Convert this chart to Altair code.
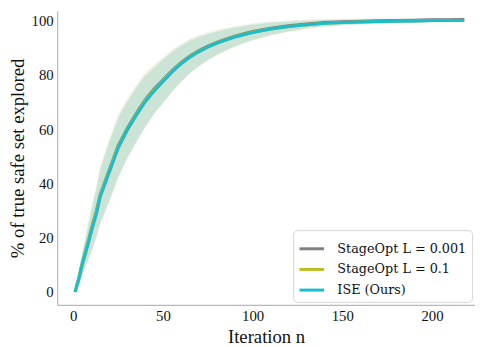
import altair as alt
import pandas as pd

iters = [1, 3, 5, 8, 10, 13, 15, 20, 25, 30, 35, 40, 45, 50, 55, 60, 65, 70, 75, 80,
         85, 90, 95, 100, 110, 120, 130, 140, 150, 160, 170, 180, 190, 200, 210, 218]

series_names = ["StageOpt L = 0.001", "StageOpt L = 0.1", "ISE (Ours)"]
series_colors = ["#7f7f7f", "#bcbd22", "#17becf"]
band_opacity = [0.1, 0.15, 0.25]

# mean % explored
mean_stage_001 = [0.3, 5.2, 10.8, 18.0, 23.2, 30.4, 36.0, 45.0, 54.0, 60.3, 65.8, 70.8, 74.8, 78.2,
                  81.6, 84.5, 87.0, 89.0, 90.6, 92.0, 93.2, 94.3, 95.2, 96.0, 97.2, 98.1, 98.8,
                  99.3, 99.6, 99.8, 100.0, 100.1, 100.2, 100.3, 100.3, 100.4]
mean_stage_01 = [0.1, 4.9, 10.4, 17.5, 22.6, 29.8, 35.4, 44.4, 53.4, 59.8, 65.4, 70.4, 74.4, 77.8,
                 81.3, 84.2, 86.7, 88.7, 90.3, 91.7, 92.9, 94.0, 94.9, 95.7, 96.9, 97.8, 98.5,
                 99.0, 99.3, 99.5, 99.7, 99.8, 99.9, 100.0, 100.0, 100.1]
mean_ise = [0.0, 4.5, 10.0, 17.0, 22.0, 29.0, 35.0, 44.0, 53.0, 59.5, 65.0, 70.0, 74.0, 77.5,
            81.0, 84.0, 86.5, 88.5, 90.2, 91.6, 92.8, 93.9, 94.8, 95.6, 96.9, 97.8, 98.5,
            99.0, 99.3, 99.5, 99.7, 99.8, 99.9, 100.0, 100.0, 100.1]

# half-width of the shaded band
spread_stage_001 = [0.2, 2.8, 4.4, 6.5, 8.0, 9.5, 10.5, 11.5, 11.5, 11.0, 10.5, 10.0, 9.0, 8.4,
                    7.7, 7.0, 6.3, 5.7, 5.1, 4.6, 4.1, 3.7, 3.3, 3.0, 2.5, 2.0, 1.6, 1.3, 1.1,
                    1.0, 0.9, 0.8, 0.8, 0.8, 0.8, 0.8]
spread_stage_01 = [0.2, 2.6, 4.2, 6.2, 7.7, 9.2, 10.2, 11.2, 11.2, 10.8, 10.2, 9.7, 8.8, 8.2,
                   7.5, 6.8, 6.2, 5.6, 5.0, 4.5, 4.1, 3.7, 3.3, 3.0, 2.5, 2.0, 1.6, 1.3, 1.1,
                   0.9, 0.8, 0.7, 0.7, 0.7, 0.7, 0.7]
spread_ise = [0.2, 2.5, 4.0, 6.0, 7.5, 9.0, 10.0, 11.0, 11.0, 10.5, 10.0, 9.5, 8.5, 8.0,
              7.3, 6.6, 6.0, 5.4, 4.8, 4.3, 3.9, 3.5, 3.1, 2.8, 2.3, 1.8, 1.4, 1.2, 1.0,
              0.9, 0.8, 0.7, 0.7, 0.7, 0.7, 0.7]

x_ticks = [0, 50, 100, 150, 200]
y_ticks = [0, 20, 40, 60, 80, 100]

rows = []
for k, (name, means, spreads) in enumerate(zip(series_names,
                                [mean_stage_001, mean_stage_01, mean_ise],
                                [spread_stage_001, spread_stage_01, spread_ise])):
    for n, m, s in zip(iters, means, spreads):
        rows.append({"n": n, "series": name, "mean": m, "lo": m - s, "hi": m + s, "order": k})
df = pd.DataFrame(rows)

FONT = "Liberation Serif, DejaVu Serif, serif"
LEGEND_FONT = "DejaVu Serif, serif"

x_enc = alt.X("n:Q", scale=alt.Scale(domain=[-9, 224], nice=False, zero=False),
              axis=alt.Axis(values=x_ticks, title="Iteration n"))
y_scale = alt.Scale(domain=[-4.7, 103.6], nice=False, zero=False)
color_scale = alt.Scale(domain=series_names, range=series_colors)

bands = alt.Chart(df).mark_area().encode(
    x=x_enc,
    y=alt.Y("lo:Q", scale=y_scale,
            axis=alt.Axis(values=y_ticks, title="% of true safe set explored")),
    y2="hi:Q",
    color=alt.Color("series:N", scale=color_scale, legend=None),
    opacity=alt.Opacity("series:N", scale=alt.Scale(domain=series_names, range=band_opacity),
                        legend=None),
    order="order:Q",
)

lines = alt.Chart(df).mark_line(strokeWidth=3).encode(
    x=x_enc,
    y=alt.Y("mean:Q", scale=y_scale),
    color=alt.Color("series:N", scale=color_scale, sort=series_names,
                    legend=alt.Legend(title=None, orient="bottom-right", offset=3,
                                      symbolType="stroke", symbolStrokeWidth=3,
                                      symbolSize=625, labelFont=LEGEND_FONT, labelFontSize=13,
                                      labelColor="#111", rowPadding=-3, padding=5,
                                      fillColor="white", strokeColor="#d6d6d6",
                                      cornerRadius=4, labelOffset=12)),
    detail="series:N",
)

chart = alt.layer(bands, lines).resolve_legend(color="independent").properties(
    width=425, height=299, padding={"left": 0, "top": 0, "right": 0, "bottom": 0}
).configure_view(stroke=None).configure_axis(
    grid=False, ticks=False, domainColor="#b8b8b8", domainWidth=1.2,
    labelFont=FONT, labelFontSize=15, labelColor="#111", labelPadding=4,
    titleFont=FONT, titleFontSize=19, titleFontWeight="normal", titleColor="#111",
    titlePadding=4,
)

chart.save("out.html", embed_options={"renderer": "svg", "actions": False})
